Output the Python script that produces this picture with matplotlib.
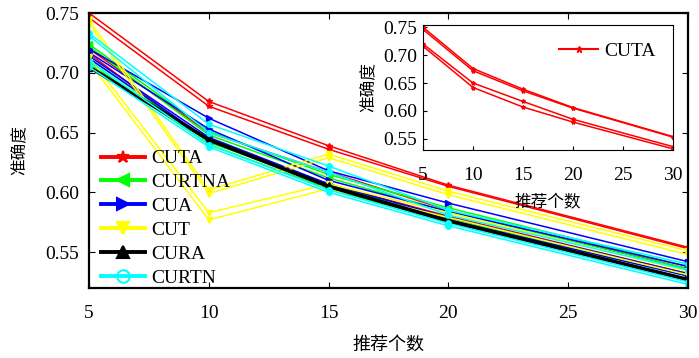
import matplotlib
matplotlib.use('Agg')
import matplotlib.pyplot as plt
from matplotlib.lines import Line2D

plt.rcParams['font.family'] = ['Liberation Serif', 'Noto Sans CJK SC']
plt.rcParams['xtick.direction'] = 'in'
plt.rcParams['ytick.direction'] = 'in'

# recommendation counts
x = [5, 10, 15, 20, 30]

# every method has four curves (two pairs)
cuta = [[0.750, 0.676, 0.639, 0.606, 0.554],
        [0.746, 0.672, 0.636, 0.605, 0.553],
        [0.720, 0.650, 0.617, 0.585, 0.536],
        [0.716, 0.642, 0.607, 0.580, 0.532]]
curtna = [[0.724, 0.651, 0.615, 0.587, 0.538],
          [0.722, 0.648, 0.612, 0.584, 0.536],
          [0.712, 0.642, 0.606, 0.578, 0.530],
          [0.708, 0.640, 0.603, 0.575, 0.527]]
cua = [[0.720, 0.662, 0.618, 0.591, 0.542],
       [0.717, 0.653, 0.610, 0.584, 0.538],
       [0.714, 0.646, 0.607, 0.579, 0.532],
       [0.712, 0.644, 0.605, 0.577, 0.530]]
cut = [[0.744, 0.602, 0.632, 0.601, 0.551],
       [0.741, 0.599, 0.629, 0.598, 0.548],
       [0.713, 0.583, 0.607, 0.583, 0.534],
       [0.709, 0.577, 0.603, 0.579, 0.531]]
cura = [[0.706, 0.645, 0.606, 0.577, 0.528],
        [0.705, 0.644, 0.605, 0.576, 0.527],
        [0.705, 0.644, 0.605, 0.576, 0.527],
        [0.704, 0.643, 0.604, 0.575, 0.526]]
curtn = [[0.733, 0.657, 0.622, 0.585, 0.540],
         [0.731, 0.650, 0.617, 0.581, 0.535],
         [0.710, 0.640, 0.602, 0.574, 0.525],
         [0.705, 0.638, 0.600, 0.572, 0.523]]

names = ['CUTA', 'CURTNA', 'CUA', 'CUT', 'CURA', 'CURTN']
all_data = [cuta, curtna, cua, cut, cura, curtn]
colors = ['#ff0000', '#00ff00', '#0000ff', '#ffff00', '#000000', '#00ffff']
markers = ['*', '<', '>', 'v', '^', 'o']

fig = plt.figure(figsize=(6.99, 3.58), dpi=100)
ax = fig.add_axes([89/699, 1-288/358, 599/699, 275/358])

for data, c, m in zip(all_data, colors, markers):
    for line in data:
        ax.plot(x, line, color=c, marker=m, markersize=4, linewidth=1.1)

ax.set_xlim(5, 30)
ax.set_ylim(0.52, 0.75)
ax.set_xticks([5, 10, 15, 20, 25, 30])
ax.set_yticks([0.55, 0.60, 0.65, 0.70, 0.75])
ax.set_yticklabels(['0.55', '0.60', '0.65', '0.70', '0.75'])
ax.tick_params(top=True, right=True, labelsize=14, length=4)
ax.tick_params(axis='x', pad=12)
ax.tick_params(axis='y', pad=7)
for s in ax.spines.values():
    s.set_linewidth(1.6)
ax.set_xlabel('推荐个数', fontsize=13, family='Noto Sans CJK SC', labelpad=10)
ax.set_ylabel('准确度', fontsize=12, family='Noto Sans CJK SC', labelpad=12)

handles = []
for n, c, m in zip(names, colors, markers):
    mfc = 'none' if m == 'o' else c
    handles.append(Line2D([], [], color=c, marker=m, markersize=9, linewidth=2.8,
                          markerfacecolor=mfc, markeredgewidth=1.5, label=n))
ax.legend(handles=handles, loc='upper left', bbox_to_anchor=(0.0, 0.545), frameon=False,
          fontsize=14, handlelength=2.3, handletextpad=0.3, labelspacing=0.32,
          borderaxespad=0.2)

# inset with the CUTA curves only
ins = fig.add_axes([423/699, 1-150/358, 250/699, 125/358])
for line in cuta:
    ins.plot(x, line, color='#ff0000', marker='*', markersize=3, linewidth=1.1)
ins.set_xlim(5, 30)
ins.set_ylim(0.53, 0.754)
ins.set_xticks([5, 10, 15, 20, 25, 30])
ins.set_yticks([0.55, 0.60, 0.65, 0.70, 0.75])
ins.set_yticklabels(['0.55', '0.60', '0.65', '0.70', '0.75'])
ins.tick_params(labelsize=14, length=3)
ins.tick_params(axis='x', pad=12)
ins.tick_params(axis='y', pad=4)
ins.set_xlabel('推荐个数', fontsize=12, family='Noto Sans CJK SC', labelpad=8)
ins.set_ylabel('准确度', fontsize=12, family='Noto Sans CJK SC', labelpad=4)
ins.legend([Line2D([], [], color='#ff0000', marker='*', markersize=5, linewidth=1.5)],
           ['CUTA'], loc='upper right', frameon=False, fontsize=14,
           handlelength=2.0, handletextpad=0.3)

fig.savefig('out.png', dpi=100)
